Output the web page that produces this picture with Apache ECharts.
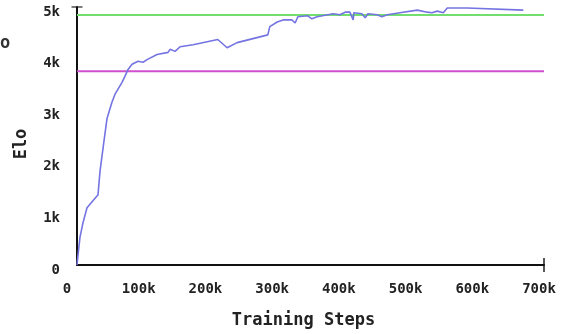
<!DOCTYPE html>
<html>
<head>
<meta charset="utf-8">
<script src="https://cdn.jsdelivr.net/npm/echarts@6/dist/echarts.min.js"></script>
<style>
html,body{margin:0;padding:0;background:#fff;}
#c{width:567px;height:334px;}
</style>
</head>
<body>
<div id="c"></div>
<script>
// Training steps (in thousands) and Elo values of the agent curve
const steps = [0, 1.5, 4.5, 9, 15, 31.5, 34.5, 39, 45, 52.5, 57, 61.5, 67.5, 72, 76.5, 82.5, 91.5, 99, 105, 120, 136.5, 139.5, 147, 154.5, 174, 211, 225, 240, 286, 289, 300, 309, 322, 327, 331, 346, 352, 360, 384, 394, 402, 409, 414, 415, 427, 432, 436, 450, 457, 465, 484, 510, 525, 532, 540, 549, 555, 585, 669];
const elo   = [0, 0.19, 0.54, 0.82, 1.11, 1.36, 1.82, 2.26, 2.84, 3.16, 3.31, 3.41, 3.54, 3.66, 3.79, 3.89, 3.95, 3.93, 3.98, 4.08, 4.12, 4.18, 4.14, 4.23, 4.27, 4.37, 4.21, 4.31, 4.46, 4.62, 4.71, 4.75, 4.75, 4.69, 4.81, 4.83, 4.77, 4.81, 4.87, 4.85, 4.90, 4.90, 4.75, 4.89, 4.87, 4.79, 4.87, 4.85, 4.81, 4.85, 4.89, 4.94, 4.90, 4.89, 4.92, 4.89, 4.98, 4.98, 4.94];
// Reference levels (Elo, thousands)
const greenLevel = 4.847;
const magentaLevel = 3.755;
// Axis ranges / ticks (thousands)
const xTicks = [0, 100, 200, 300, 400, 500, 600, 700];
const yTicks = [0, 1, 2, 3, 4, 5];

const FONT = '"DejaVu Sans Mono", monospace';
const chart = echarts.init(document.getElementById('c'), null, {renderer: 'canvas'});
const curve = steps.map((s, i) => [s * 1000, elo[i] * 1000]);
const xMin = xTicks[0] * 1000, xMax = xTicks[xTicks.length - 1] * 1000;
const yMin = yTicks[0] * 1000, yMax = yTicks[yTicks.length - 1] * 1000;

chart.setOption({
  animation: false,
  backgroundColor: '#fff',
  grid: {left: 77, right: 23, top: 7, bottom: 66, containLabel: false},
  xAxis: {
    type: 'value', min: xMin, max: xMax, interval: 100000,
    name: 'Training Steps', nameLocation: 'middle', nameGap: 47,
    nameTextStyle: {fontFamily: FONT, fontSize: 17, fontWeight: 'bold', color: '#222', padding: [0, 14, 0, 0]},
    axisLine: {show: true, onZero: false, lineStyle: {color: '#111', width: 2},
      symbol: ['none', 'path://M0,0H10V1H0Z'], symbolSize: [14, 2], symbolOffset: [0, 0]},
    axisTick: {show: false},
    splitLine: {show: false},
    axisLabel: {
      margin: 17, fontFamily: FONT, fontSize: 14, fontWeight: 'bold', color: '#222',
      formatter: v => v === 0 ? '{z|0}' : '{n|' + (v / 1000) + 'k}',
      rich: {
        z: {fontFamily: FONT, fontSize: 14, fontWeight: 'bold', color: '#222', padding: [0, 20, 0, 0]},
        n: {fontFamily: FONT, fontSize: 14, fontWeight: 'bold', color: '#222', padding: [0, 10, 0, 0]}
      }
    }
  },
  yAxis: {
    type: 'value', min: yMin, max: yMax, interval: 1000,
    name: 'Elo', nameLocation: 'middle', nameGap: 47, nameRotate: 90,
    nameTextStyle: {fontFamily: FONT, fontSize: 17, fontWeight: 'bold', color: '#222', padding: [0, 16, 0, 0]},
    axisLine: {show: true, onZero: false, lineStyle: {color: '#111', width: 2},
      symbol: ['none', 'path://M0,0H10V1H0Z'], symbolSize: [11, 2], symbolOffset: [0, 0]},
    axisTick: {show: false},
    splitLine: {show: false},
    axisLabel: {
      margin: 17, fontFamily: FONT, fontSize: 14, fontWeight: 'bold', color: '#222',
      verticalAlign: 'top', lineHeight: 10,
      formatter: v => v === 0 ? '0' : (v / 1000) + 'k'
    }
  },
  graphic: [{
    type: 'text', left: 0, top: 35,
    style: {text: 'o', font: 'bold 17px "DejaVu Sans Mono"', fill: '#333'}
  }],
  series: [
    {
      type: 'line', data: [[xMin, greenLevel * 1000], [xMax, greenLevel * 1000]],
      showSymbol: false, lineStyle: {color: '#72de6e', width: 2}, z: 1
    },
    {
      type: 'line', data: [[xMin, magentaLevel * 1000], [xMax, magentaLevel * 1000]],
      showSymbol: false, lineStyle: {color: '#cf4fd0', width: 2}, z: 1
    },
    {
      type: 'line', data: curve, showSymbol: false,
      lineStyle: {color: '#7474e2', width: 1.6}, z: 3
    }
  ]
});
</script>
</body>
</html>
